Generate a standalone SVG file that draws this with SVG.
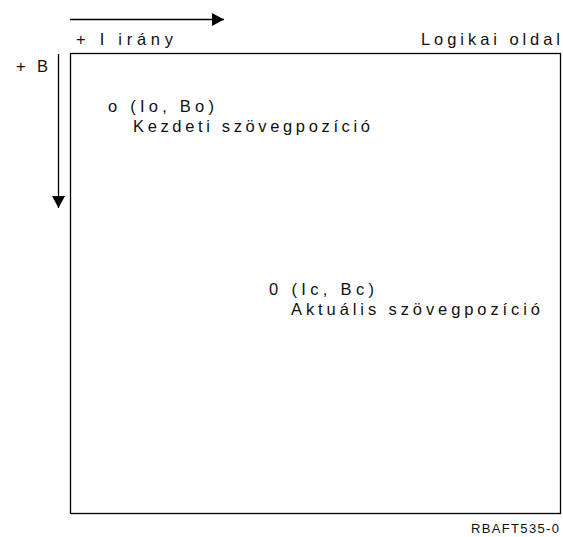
<svg xmlns="http://www.w3.org/2000/svg" width="563" height="537" viewBox="0 0 563 537">
  <style>
    .t { font-family: "Liberation Sans", Arial, sans-serif; font-size: 16.5px; fill: #111; }
    .id { font-family: "Liberation Sans", Arial, sans-serif; font-size: 13px; fill: #111; }
    .ln { stroke: #000; stroke-width: 1.3; fill: none; }
  </style>
  <defs>
    <marker id="ah" viewBox="0 0 12 13" refX="12" refY="6.5" markerWidth="12" markerHeight="13" markerUnits="userSpaceOnUse" orient="auto">
      <path d="M0,0 L12,6.5 L0,13 Z" fill="#000"/>
    </marker>
  </defs>

  <!-- logical page frame -->
  <g id="page">
    <rect x="70.5" y="53.5" width="490" height="460" class="ln"/>
    <text class="t" x="421" y="45" textLength="139" lengthAdjust="spacing">Logikai oldal</text>
  </g>

  <!-- direction arrows -->
  <g id="connectors">
    <line x1="70" y1="19.5" x2="224" y2="19.5" class="ln" marker-end="url(#ah)"/>
    <line x1="58.5" y1="54" x2="58.5" y2="208" class="ln" marker-end="url(#ah)"/>
  </g>

  <g id="axis-i">
    <text class="t" x="76" y="45" textLength="97" lengthAdjust="spacing">+ I irány</text>
  </g>
  <g id="axis-b">
    <text class="t" x="16" y="72" textLength="32" lengthAdjust="spacing">+ B</text>
  </g>

  <g id="start-pos">
    <text class="t" x="108" y="112" textLength="106" lengthAdjust="spacing">o (Io, Bo)</text>
    <text class="t" x="133" y="132" textLength="237" lengthAdjust="spacing">Kezdeti szövegpozíció</text>
  </g>

  <g id="current-pos">
    <text class="t" x="269" y="295" textLength="105" lengthAdjust="spacing">0 (Ic, Bc)</text>
    <text class="t" x="291" y="315" textLength="249" lengthAdjust="spacing">Aktuális szövegpozíció</text>
  </g>

  <text class="id" x="471" y="533" textLength="88" lengthAdjust="spacing">RBAFT535-0</text>
</svg>
